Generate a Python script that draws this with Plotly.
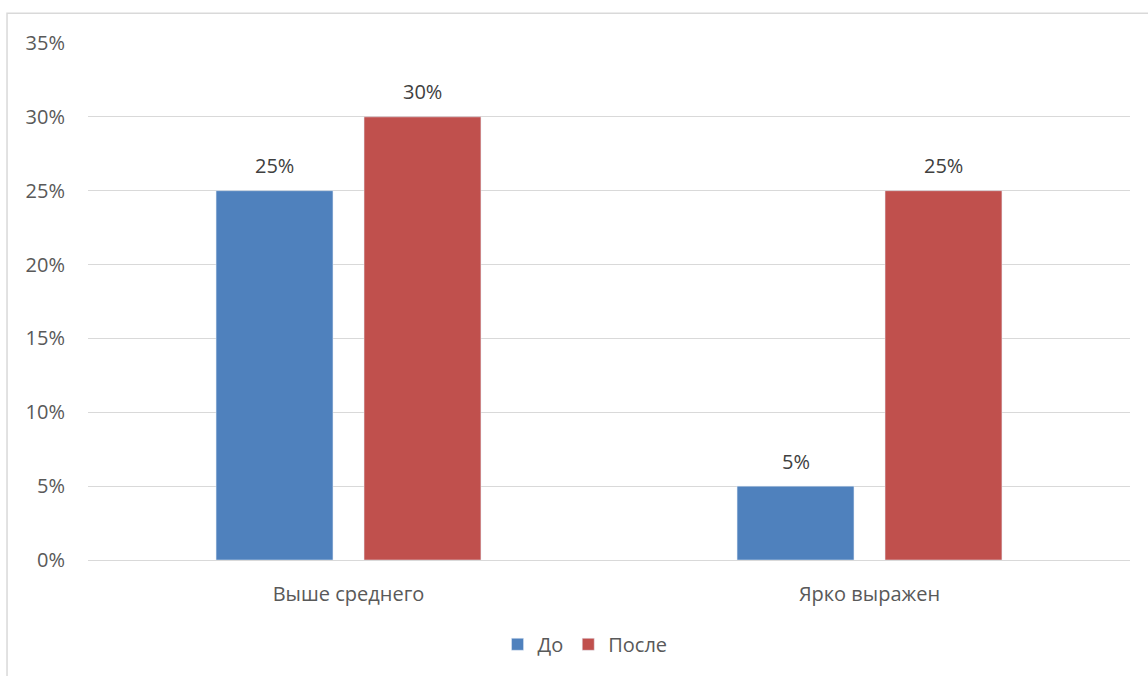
import plotly.graph_objects as go

categories = ["Выше среднего", "Ярко выражен"]
before = [0.25, 0.05]
after = [0.30, 0.25]
series_names = ["До", "После"]
colors = ["#4F81BD", "#C0504D"]

font_family = "'Open Sans', 'Liberation Sans', sans-serif"
fs = 20

fig = go.Figure()
for name, vals, col in zip(series_names, [before, after], colors):
    fig.add_trace(go.Bar(name=name, x=categories, y=vals, marker=dict(color=col),
                         offsetgroup=name))

# data labels above bars
shifts = [-74, 74]
annotations = []
for vals, xs in zip([before, after], shifts):
    for cat, v in zip(categories, vals):
        annotations.append(dict(x=cat, y=v, xref="x", yref="y", text=f"{v:.0%}",
                                showarrow=False, xshift=xs, yshift=25,
                                font=dict(size=fs, color="#404040")))

fig.update_layout(
    width=1148, height=676,
    margin=dict(l=88, r=18, t=43, b=113),
    paper_bgcolor="white", plot_bgcolor="white",
    barmode="group", bargap=0.432, bargroupgap=0.21,
    font=dict(family=font_family, color="#595959", size=fs),
    legend=dict(orientation="h", x=0.477, xanchor="center", y=-0.163, yanchor="middle",
                font=dict(size=fs, color="#595959"), itemwidth=30,
                traceorder="normal"),
    xaxis=dict(showgrid=False, showline=True, linecolor="#D9D9D9", linewidth=1,
               ticks="", ticklabelstandoff=16, tickfont=dict(size=fs, color="#595959")),
    yaxis=dict(range=[0, 0.35], dtick=0.05, tickformat=".0%", showgrid=True,
               gridcolor="#D9D9D9", gridwidth=1, zeroline=False, showline=False,
               ticks="", ticklabelstandoff=22, tickfont=dict(size=fs, color="#595959")),
    annotations=annotations,
    shapes=[dict(type="rect", xref="paper", yref="paper",
                 x0=-0.0777, x1=1.2, y0=-0.3, y1=1.0577,
                 line=dict(color="#D9D9D9", width=1.5), layer="below")],
)

fig.write_html("out.html")
